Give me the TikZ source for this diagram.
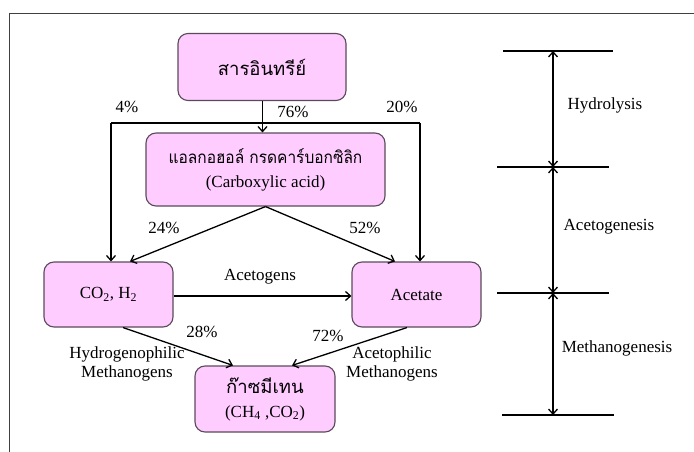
\documentclass[tikz,border=0pt]{standalone}
\usepackage{fontspec}
\setmainfont{Liberation Serif}
\newfontfamily\thaifont[Script=Thai]{Loma}
\usetikzlibrary{arrows.meta}
\definecolor{boxfill}{HTML}{FFCCFF}
\definecolor{boxline}{HTML}{5A4A5A}
\begin{document}
\begin{tikzpicture}[x=1pt,y=-1pt,
  stage/.style={draw=boxline,fill=boxfill,line width=1.1pt,rounded corners=10pt,
    align=center,inner sep=0pt,font=\fontsize{17}{24}\selectfont},
  flow/.style={line width=1.3pt,-{Straight Barb[length=5pt,width=9pt]}},
  lbl/.style={font=\fontsize{17}{19}\selectfont,inner sep=0pt,align=center},
  tick/.style={line width=1.3pt},
  span/.style={line width=1.3pt,{Straight Barb[length=5pt,width=9pt]}-{Straight Barb[length=5pt,width=9pt]}}]
\useasboundingbox (0,0) rectangle (694,452);
% outer frame (top and left edges)
\draw[line width=1pt,black!75] (9,452) -- (9,14) -- (694,14);

% process boxes
\node[stage,minimum width=168pt,minimum height=67pt] (b1) at (262,67)
  {\fontsize{18.5}{24}\thaifont สารอินทรีย์};
\node[stage,minimum width=239pt,minimum height=73pt] (b2) at (265.5,169.5)
  {\scalebox{0.91}[1]{\thaifont แอลกอฮอล์ กรดคาร์บอกซิลิก}\\(Carboxylic acid)};
\node[stage,minimum width=129pt,minimum height=65pt] (co) at (108.5,294.5)
  {CO\textsubscript{2}, H\textsubscript{2}};
\node[stage,minimum width=129pt,minimum height=65pt] (ac) at (416.5,294.5) {Acetate};
\node[stage,minimum width=140pt,minimum height=66pt] (ch) at (265,399)
  {{\fontsize{18.5}{24}\thaifont ก๊าซมีเทน}\\(CH\textsubscript{4} ,CO\textsubscript{2})};

% hydrolysis split
\coordinate (jl) at (111,123);
\coordinate (jr) at (420,123);
\draw[tick] (jl) -- (jr);
\draw[flow] ([xshift=0.5pt]b1.south) -- ([xshift=0.5pt]b1.south |- b2.north);
\draw[flow] (jl) -- (jl |- co.north);
\draw[flow] (jr) -- (jr |- ac.north);
\node[lbl] (p4) at (127,107) {4\%};
\node[lbl] (p76) at (293,112) {76\%};
\node[lbl] (p20) at (402,107) {20\%};

% acetogenesis
\draw[flow] (b2.south) -- ([xshift=21.5pt]co.north);
\draw[flow] (b2.south) -- ([xshift=-21.5pt]ac.north);
\node[lbl] (p24) at (164,228) {24\%};
\node[lbl] (p52) at (365,228) {52\%};
\draw[flow] ([yshift=-1.5pt]co.east) -- ([yshift=-1.5pt]ac.west);
\node[lbl] (acg) at (260,277) {Acetogens};

% methanogenesis
\draw[flow] ([xshift=14.5pt]co.south) -- ([xshift=-32pt]ch.north);
\draw[flow] ([xshift=-9.5pt]ac.south) -- ([xshift=27pt]ch.north);
\node[lbl] (p28) at (202,332) {28\%};
\node[lbl] (p72) at (328,336) {72\%};
\node[lbl] (hm) at (127,364) {Hydrogenophilic\\Methanogens};
\node[lbl] (am) at (392,364) {Acetophilic\\Methanogens};

% stage scale
\coordinate (s1l) at (503,51);  \coordinate (s1r) at (613,51);
\coordinate (s2l) at (497,167); \coordinate (s2r) at (609,167);
\coordinate (s3l) at (497,293); \coordinate (s3r) at (609,293);
\coordinate (s4l) at (502,415); \coordinate (s4r) at (614,415);
\draw[tick] (s1l) -- (s1r);
\draw[tick] (s2l) -- (s2r);
\draw[tick] (s3l) -- (s3r);
\draw[tick] (s4l) -- (s4r);
\coordinate (v1) at (553,51);
\coordinate (v2) at (553,167);
\coordinate (v3) at (553,293);
\coordinate (v4) at (553,415);
\draw[span] (v1) -- (v2);
\draw[span] (v2) -- (v3);
\draw[span] (v3) -- (v4);
\node[lbl] (hy) at (605,105) {Hydrolysis};
\node[lbl] (ag) at (609,227) {Acetogenesis};
\node[lbl] (mg) at (617,348) {Methanogenesis};
\end{tikzpicture}
\end{document}
